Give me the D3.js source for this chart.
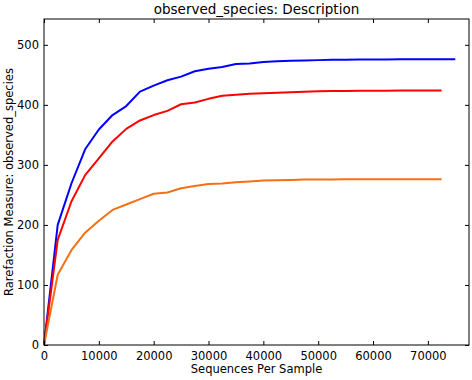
<!DOCTYPE html>
<html>
<head>
<meta charset="utf-8">
<script src="https://cdn.jsdelivr.net/npm/d3@7"></script>
<style>
  body { margin: 0; background: #fff; }
  text { font-family: "DejaVu Sans", sans-serif; }
</style>
</head>
<body>
<div id="chart"></div>
<script>
// rarefaction depths (every 2500 sequences)
var depths = [0, 2500, 5000, 7500, 10000, 12500, 15000, 17500, 20000, 22500, 25000,
  27500, 30000, 32500, 35000, 37500, 40000, 42500, 45000, 47500, 50000,
  52500, 55000, 57500, 60000, 62500, 65000, 67500, 70000, 72500, 75000];

var blueVals = [0, 200, 269, 326, 359, 383, 398, 422, 432, 441, 447, 456, 460, 463, 468,
  469, 471.5, 472.5, 473.5, 474, 474.5, 475, 475, 475.5, 475.5, 475.5, 476, 476, 476, 476, 476];
var redVals = [0, 175, 239, 283, 311, 339, 360, 374, 383, 390, 401, 404, 410, 415, 417,
  418.5, 419.5, 420, 421, 422, 422.5, 423, 423, 423.3, 423.5, 423.5, 424, 424, 424, 424];
var orangeVals = [0, 117, 158, 187, 207, 225, 234, 243, 252, 254, 261, 265, 268, 269, 271,
  272.5, 274, 274.5, 275, 275.5, 275.5, 275.8, 276, 276, 276, 276, 276, 276, 276, 276];

var seriesColors = ["#0000ff", "#ff0000", "#f57014"];
var xTicks = [0, 10000, 20000, 30000, 40000, 50000, 60000, 70000];
var yTicks = [0, 100, 200, 300, 400, 500];

function init() {
    var W = 472, H = 380;
    var margin = {left: 44, right: 3, top: 19, bottom: 35};
    var w = W - margin.left - margin.right;
    var h = H - margin.top - margin.bottom;

    var svg = d3.select("#chart").append("svg")
        .attr("width", W)
        .attr("height", H);

    var g = svg.append("g")
        .attr("transform", "translate(" + margin.left + "," + margin.top + ")");

    var xScale = d3.scaleLinear().domain([0, 77500]).range([0, w]);
    var yScale = d3.scaleLinear().domain([0, 543]).range([h, 0]);

    var series = [blueVals, redVals, orangeVals];

    var line = d3.line()
        .x(function(d) { return xScale(d[0]); })
        .y(function(d) { return yScale(d[1]); });

    var clip = g.append("clipPath").attr("id", "clip")
        .append("rect").attr("width", w).attr("height", h);

    series.forEach(function(vals, i) {
        var pts = vals.map(function(v, j) { return [depths[j], v]; });
        g.append("path")
            .datum(pts)
            .attr("d", line)
            .attr("fill", "none")
            .attr("stroke", seriesColors[i])
            .attr("stroke-width", 2)
            .attr("stroke-linejoin", "round");
    });

    // axes: matplotlib classic style, ticks inward on all sides
    var fmt = d3.format("d");
    var xAxis = g.append("g")
        .attr("transform", "translate(0," + h + ")")
        .call(d3.axisBottom(xScale).tickValues(xTicks).tickFormat(fmt).tickSizeInner(-4).tickSizeOuter(0).tickPadding(7));
    var yAxis = g.append("g")
        .call(d3.axisLeft(yScale).tickValues(yTicks).tickFormat(fmt).tickSizeInner(-4).tickSizeOuter(0).tickPadding(5));
    var xTop = g.append("g")
        .call(d3.axisTop(xScale).tickValues(xTicks).tickFormat("").tickSizeInner(-4).tickSizeOuter(0));
    var yRight = g.append("g")
        .attr("transform", "translate(" + w + ",0)")
        .call(d3.axisRight(yScale).tickValues(yTicks).tickFormat("").tickSizeInner(-4).tickSizeOuter(0));

    [xAxis, yAxis, xTop, yRight].forEach(function(a) {
        a.select(".domain").remove();
        a.selectAll("line").attr("stroke", "#000");
        a.selectAll("text").attr("font-size", 11.5).attr("fill", "#000")
            .style("font-family", "DejaVu Sans, sans-serif");
    });

    g.append("rect")
        .attr("width", w).attr("height", h)
        .attr("fill", "none")
        .attr("stroke", "#000")
        .attr("stroke-width", 1);

    svg.append("text")
        .attr("x", margin.left + w / 2)
        .attr("y", 14)
        .attr("text-anchor", "middle")
        .attr("font-size", 13.5)
        .text("observed_species: Description");

    svg.append("text")
        .attr("x", margin.left + w / 2)
        .attr("y", 373)
        .attr("text-anchor", "middle")
        .attr("font-size", 11.5)
        .text("Sequences Per Sample");

    svg.append("text")
        .attr("transform", "translate(13," + (margin.top + h / 2) + ") rotate(-90)")
        .attr("text-anchor", "middle")
        .attr("font-size", 11.5)
        .text("Rarefaction Measure: observed_species");
}

window.onload = init;
</script>
</body>
</html>
